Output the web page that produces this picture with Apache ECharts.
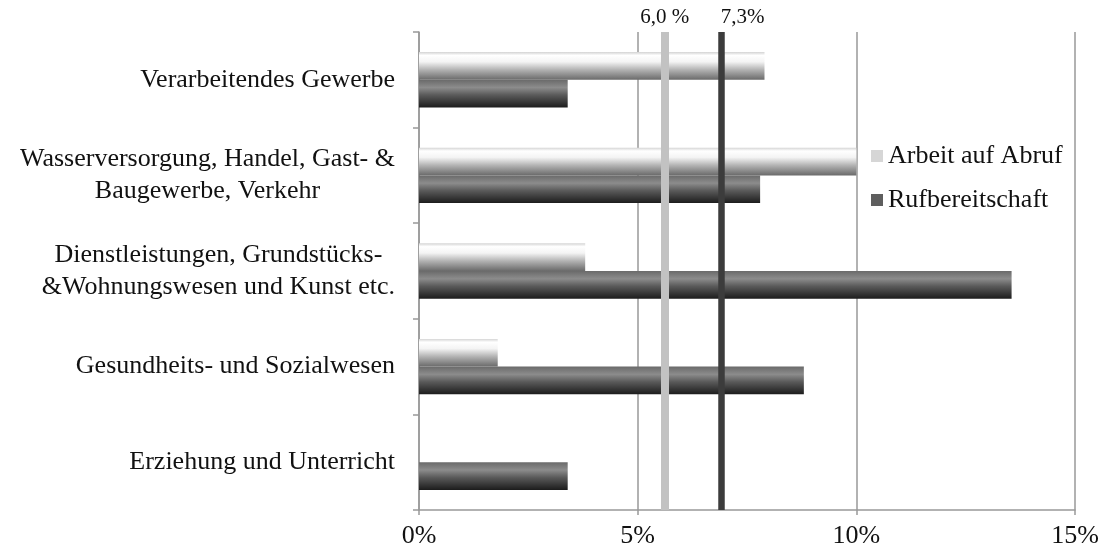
<!DOCTYPE html>
<html>
<head>
<meta charset="utf-8">
<script src="https://cdn.jsdelivr.net/npm/echarts@6/dist/echarts.min.js"></script>
<style>
html,body{margin:0;padding:0;background:#fff;}
#chart{width:1103px;height:552px;}
</style>
</head>
<body>
<div id="chart"></div>
<script>
var categories = [
  'Verarbeitendes Gewerbe',
  'Wasserversorgung, Handel, Gast- &\nBaugewerbe, Verkehr',
  'Dienstleistungen, Grundstücks-\n&Wohnungswesen und Kunst etc.',
  'Gesundheits- und Sozialwesen',
  'Erziehung und Unterricht'
];
var seriesNames = ['Arbeit auf Abruf', 'Rufbereitschaft'];
var arbeitAufAbruf = [7.9, 10.0, 3.8, 1.8, 0];
var rufbereitschaft = [3.4, 7.8, 13.55, 8.8, 3.4];
var refLineValues = [5.62, 6.92];
var refLineLabels = ['6,0 %', '7,3%'];
var xTicks = [0, 5, 10, 15];

var FONT = "'Liberation Serif', 'Times New Roman', serif";

var lightGrad = new echarts.graphic.LinearGradient(0, 0, 0, 1, [
  {offset: 0, color: '#d4d4d4'},
  {offset: 0.12, color: '#ffffff'},
  {offset: 0.35, color: '#f4f4f4'},
  {offset: 0.65, color: '#b0b0b0'},
  {offset: 1, color: '#6a6a6a'}
]);
var darkGrad = new echarts.graphic.LinearGradient(0, 0, 0, 1, [
  {offset: 0, color: '#6a6a6a'},
  {offset: 0.28, color: '#8c8c8c'},
  {offset: 0.55, color: '#5a5a5a'},
  {offset: 1, color: '#1c1c1c'}
]);

var chart = echarts.init(document.getElementById('chart'));
chart.setOption({
  animation: false,
  backgroundColor: '#ffffff',
  textStyle: {fontFamily: FONT},
  grid: {left: 419, right: 28, top: 32, bottom: 42, containLabel: false},
  legend: {
    orient: 'vertical',
    left: 866,
    top: 138,
    itemWidth: 12,
    itemHeight: 12,
    itemGap: 18,
    icon: 'rect',
    textStyle: {fontFamily: FONT, fontSize: 26, color: '#111'},
    data: [
      {name: seriesNames[0], itemStyle: {color: '#d6d6d6'}},
      {name: seriesNames[1], itemStyle: {color: '#5e5e5e'}}
    ]
  },
  xAxis: {
    type: 'value',
    min: xTicks[0],
    max: xTicks[xTicks.length - 1],
    interval: 5,
    axisLine: {show: true, lineStyle: {color: '#999', width: 1.5}},
    axisTick: {show: true, length: 5, lineStyle: {color: '#999', width: 1.5}},
    splitLine: {show: true, lineStyle: {color: '#999', width: 1.5}},
    axisLabel: {
      formatter: function (v) { return v + '%'; },
      fontFamily: FONT, fontSize: 26, color: '#111', margin: 13
    }
  },
  yAxis: {
    type: 'category',
    inverse: true,
    data: categories,
    axisLine: {show: true, lineStyle: {color: '#999', width: 1.5}},
    axisTick: {show: true, length: 6, lineStyle: {color: '#999', width: 1.5}},
    axisLabel: {
      margin: 24,
      fontFamily: FONT, fontSize: 26, color: '#111', lineHeight: 32,
      formatter: function (v) {
        return v.split('\n').map(function (l) { return '{c|' + l + '}'; }).join('\n');
      },
      rich: {c: {align: 'center', fontFamily: FONT, fontSize: 26, color: '#111', lineHeight: 32}}
    }
  },
  series: [
    {
      name: seriesNames[0],
      type: 'bar',
      data: arbeitAufAbruf,
      barGap: '0%',
      barCategoryGap: '42%',
      itemStyle: {color: lightGrad},
      emphasis: {disabled: true}
    },
    {
      name: seriesNames[1],
      type: 'bar',
      data: rufbereitschaft,
      barGap: '0%',
      barCategoryGap: '42%',
      itemStyle: {color: darkGrad},
      emphasis: {disabled: true},
      markLine: {
        silent: true,
        symbol: 'none',
        z: 10,
        data: [
          {xAxis: refLineValues[0], lineStyle: {color: '#c2c2c2', width: 8, type: 'solid'},
            label: {show: true, position: 'start', formatter: refLineLabels[0], fontFamily: FONT, fontSize: 21, color: '#111', distance: 4}},
          {xAxis: refLineValues[1], lineStyle: {color: '#3c3c3c', width: 6.5, type: 'solid'},
            label: {show: true, position: 'start', formatter: refLineLabels[1], fontFamily: FONT, fontSize: 21, color: '#111', distance: 4, offset: [21, 0]}}
        ]
      }
    }
  ]
});
</script>
</body>
</html>
